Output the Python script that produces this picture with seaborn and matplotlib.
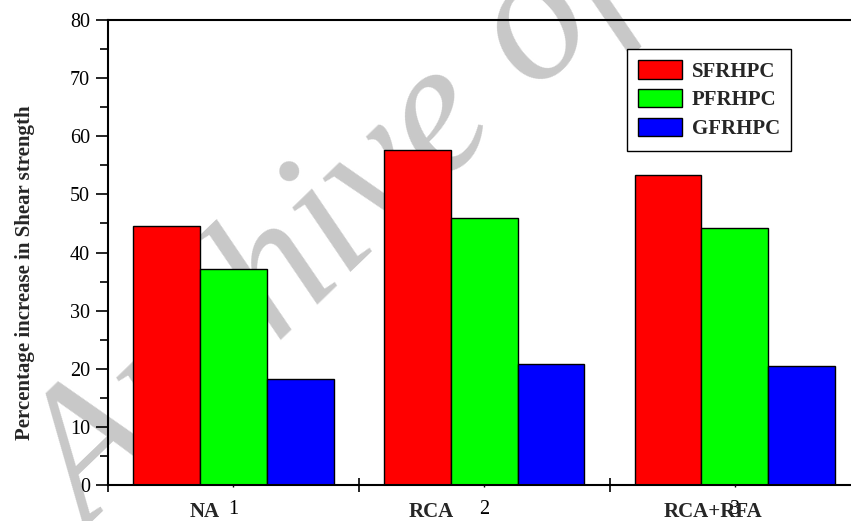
import numpy as np
import pandas as pd
import matplotlib
matplotlib.use("Agg")
import matplotlib.pyplot as plt
import seaborn as sns
from matplotlib.patches import Patch

# Percentage increase in shear strength for each aggregate mix and fibre type
mixes = ["NA", "RCA", "RCA+RFA"]
tick_numbers = ["1", "2", "3"]
fibres = ["SFRHPC", "PFRHPC", "GFRHPC"]
sfrhpc = [44.6, 57.6, 53.4]
pfrhpc = [37.2, 46.0, 44.2]
gfrhpc = [18.2, 20.9, 20.4]
colours = ["#ff0000", "#00ff00", "#0000ff"]

df = pd.DataFrame({
    "mix": mixes * 3,
    "fibre": np.repeat(fibres, len(mixes)),
    "increase": sfrhpc + pfrhpc + gfrhpc,
})

sns.set_style("ticks")
plt.rcParams["font.family"] = ["Liberation Serif", "DejaVu Serif"]

fig = plt.figure(figsize=(8.51, 5.21), dpi=100)
ax = fig.add_axes([108 / 851, 36 / 521, 743 / 851, 465 / 521])

sns.barplot(data=df, x="mix", y="increase", hue="fibre", order=mixes,
            hue_order=fibres, palette=colours, saturation=1, width=0.8,
            edgecolor="black", linewidth=1.0, ax=ax, legend=False, zorder=2)

# faint diagonal watermark behind the bars
ax.text(0.105, -0.025, "Archive of SID", transform=fig.transFigure,
        rotation=44, rotation_mode="anchor", ha="left", va="baseline",
        fontsize=135, style="italic", color="#c8c8c8",
        zorder=0.5, clip_on=False)

# axes frame: left, bottom and top lines only
for side in ("left", "bottom", "top"):
    ax.spines[side].set_linewidth(1.5)
    ax.spines[side].set_color("black")
ax.spines["right"].set_visible(False)

ax.set_ylim(0, 80)
ax.set_yticks(range(0, 81, 10))
ax.set_yticks(range(5, 80, 10), minor=True)
ax.tick_params(axis="y", which="major", direction="out", length=8.4,
               width=1.2, pad=4.5, labelsize=14.5, colors="black")
ax.tick_params(axis="y", which="minor", direction="out", length=6,
               width=1.2, colors="black")

ax.set_xlim(-0.5, 2.463)
ax.set_xticks([-0.5, 0.5, 1.5])
ax.set_xticklabels([])
ax.set_xticks([0, 1, 2], minor=True)
ax.set_xticklabels(tick_numbers, minor=True)
ax.tick_params(axis="x", which="major", direction="inout", length=9.4,
               width=1.2, top=False, colors="black")
ax.tick_params(axis="x", which="minor", direction="out", length=1.5,
               width=1, pad=9, labelsize=14.5, top=False, colors="black")
ax.set_xlabel("")

# bold mix names under the groups
label_x = [-0.115, 0.79, 1.912]
trans = ax.get_xaxis_transform()
for x, name in zip(label_x, mixes):
    ax.text(x, -0.037, name, transform=trans, ha="center", va="top",
            fontsize=15, fontweight="bold", clip_on=False)

ax.set_ylabel("Percentage increase in Shear strength", fontsize=15,
              fontweight="bold")
ax.yaxis.label.set_verticalalignment("center")
ax.yaxis.set_label_coords(-0.1117, 0.457)

handles = [Patch(facecolor=c, edgecolor="black", linewidth=1) for c in colours]
leg = ax.legend(handles, fibres, loc="upper left",
                bbox_to_anchor=(0.6985, 0.9376), frameon=True, fancybox=False,
                prop={"weight": "bold", "size": 15}, handlelength=2.07,
                handleheight=0.96, handletextpad=0.48, borderpad=0.55,
                labelspacing=0.36, borderaxespad=0)
leg.get_frame().set_edgecolor("black")
leg.get_frame().set_linewidth(1.0)
leg.get_frame().set_alpha(1)

fig.savefig("out.png", dpi=100)
